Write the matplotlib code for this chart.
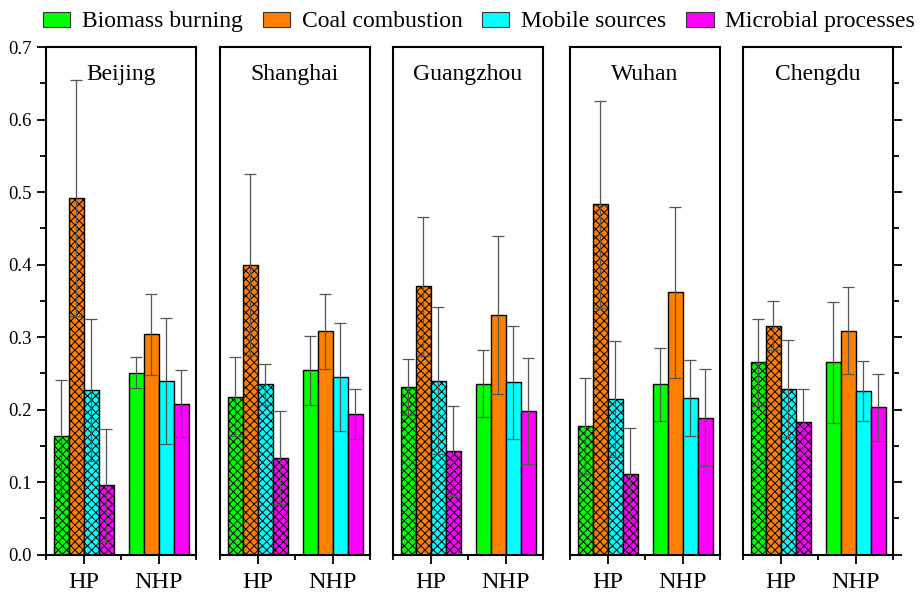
import matplotlib.pyplot as plt
from matplotlib.patches import Patch
from matplotlib.ticker import MultipleLocator, FixedLocator, FormatStrFormatter

plt.rcParams["font.family"] = ["Liberation Serif", "DejaVu Serif"]
plt.rcParams["hatch.linewidth"] = 0.7

cities = ["Beijing", "Shanghai", "Guangzhou", "Wuhan", "Chengdu"]
periods = ["HP", "NHP"]
sources = ["Biomass burning", "Coal combustion", "Mobile sources", "Microbial processes"]
colors = ["#00ff00", "#ff8000", "#00ffff", "#ff00ff"]

# mean contribution of each source, one value per city
biomass_hp = [0.163, 0.218, 0.231, 0.177, 0.265]
coal_hp = [0.492, 0.400, 0.370, 0.483, 0.316]
mobile_hp = [0.227, 0.235, 0.240, 0.215, 0.229]
microbe_hp = [0.096, 0.134, 0.143, 0.111, 0.183]
biomass_nhp = [0.251, 0.254, 0.236, 0.235, 0.265]
coal_nhp = [0.304, 0.308, 0.330, 0.362, 0.309]
mobile_nhp = [0.240, 0.245, 0.238, 0.216, 0.226]
microbe_nhp = [0.208, 0.194, 0.198, 0.189, 0.203]

# standard deviations
biomass_hp_sd = [0.078, 0.055, 0.039, 0.066, 0.060]
coal_hp_sd = [0.163, 0.125, 0.096, 0.143, 0.034]
mobile_hp_sd = [0.098, 0.028, 0.101, 0.080, 0.067]
microbe_hp_sd = [0.078, 0.064, 0.062, 0.064, 0.046]
biomass_nhp_sd = [0.021, 0.047, 0.046, 0.050, 0.084]
coal_nhp_sd = [0.056, 0.052, 0.109, 0.118, 0.060]
mobile_nhp_sd = [0.087, 0.074, 0.078, 0.052, 0.041]
microbe_nhp_sd = [0.046, 0.034, 0.073, 0.067, 0.046]

hp_means = [biomass_hp, coal_hp, mobile_hp, microbe_hp]
nhp_means = [biomass_nhp, coal_nhp, mobile_nhp, microbe_nhp]
hp_sds = [biomass_hp_sd, coal_hp_sd, mobile_hp_sd, microbe_hp_sd]
nhp_sds = [biomass_nhp_sd, coal_nhp_sd, mobile_nhp_sd, microbe_nhp_sd]

W, H = 921, 592
fig = plt.figure(figsize=(W / 100, H / 100), dpi=100)

panel_left = [46, 220, 393, 570, 743]
panel_w = 150
bottom_px, top_px = 37.3, 545
bar_w = 0.2
centers = [0.5, 1.5]

for c, city in enumerate(cities):
    ax = fig.add_axes([panel_left[c] / W, bottom_px / H, panel_w / W, (top_px - bottom_px) / H])
    for p, (means, sds) in enumerate([(hp_means, hp_sds), (nhp_means, nhp_sds)]):
        for s in range(4):
            x = centers[p] + (s - 1.5) * bar_w
            ax.bar(x, means[s][c], width=bar_w, color=colors[s], edgecolor="black",
                   linewidth=1.0, hatch="xxxx" if p == 0 else None, zorder=2)
            ax.errorbar(x, means[s][c], yerr=sds[s][c], fmt="none", ecolor="#555555",
                        elinewidth=0.9, capsize=4, capthick=0.9, zorder=3)

    ax.set_xlim(0, 2)
    ax.set_ylim(0, 0.7)
    for sp in ax.spines.values():
        sp.set_linewidth(1.5)

    ax.xaxis.set_major_locator(FixedLocator(centers))
    ax.set_xticklabels(periods)
    ax.xaxis.set_minor_locator(FixedLocator([0, 1, 2]))
    ax.tick_params(axis="x", which="major", direction="out", length=6.5, width=1.3,
                   labelsize=17.5, pad=6)
    ax.tick_params(axis="x", which="minor", direction="out", length=3.5, width=1.3)

    ax.yaxis.set_major_locator(MultipleLocator(0.1))
    ax.yaxis.set_minor_locator(MultipleLocator(0.05))
    ax.yaxis.set_major_formatter(FormatStrFormatter("%.1f"))
    if c == 0:
        ax.tick_params(axis="y", which="both", left=True, right=False, direction="out",
                       labelleft=True, labelsize=13.5, width=1.3)
        ax.tick_params(axis="y", which="major", length=6.5)
        ax.tick_params(axis="y", which="minor", length=4)
    elif c == len(cities) - 1:
        ax.tick_params(axis="y", which="both", left=False, right=True, direction="out",
                       labelleft=False, labelright=False, width=1.3)
        ax.tick_params(axis="y", which="major", length=6.5)
        ax.tick_params(axis="y", which="minor", length=4)
    else:
        ax.tick_params(axis="y", which="both", left=False, right=False, labelleft=False)

    ax.text(0.5, 0.935, city, transform=ax.transAxes, ha="center", va="baseline", fontsize=17)

handles = [Patch(facecolor=col, edgecolor="#333333", linewidth=0.8) for col in colors]
fig.legend(handles, sources, loc="center", bbox_to_anchor=(0.52, 0.963), ncol=4,
           frameon=False, fontsize=17, handlelength=1.15, handleheight=0.6,
           handletextpad=0.5, columnspacing=0.85, borderpad=0)

fig.savefig("out.png", dpi=100)
